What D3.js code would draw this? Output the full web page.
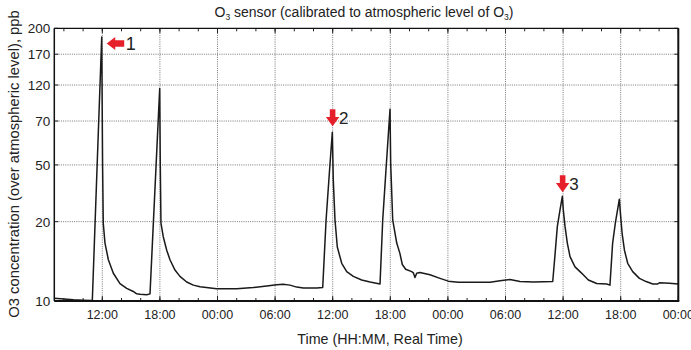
<!DOCTYPE html>
<html>
<head>
<meta charset="utf-8">
<script src="https://cdn.jsdelivr.net/npm/d3@7"></script>
<style>
  body { margin: 0; background: #fff; }
  text { font-family: "Liberation Sans", Arial, sans-serif; fill: #222; }
</style>
</head>
<body>
<div id="chart"></div>
<script>
// time in hours from midnight of day 1, concentration in ppb
const hours = [7.0, 8.0, 9.0, 10.0, 10.96,
  11.94, 12.03, 12.10, 12.28, 12.63, 13.15, 13.84, 14.54, 15.23, 15.58, 15.93, 16.63, 16.97,
  17.98, 18.04, 18.11, 18.35, 18.71, 19.05, 19.57, 20.09, 20.79, 21.48, 22.18, 23.92, 26.0, 27.73,
  29.13, 30.17, 30.85, 31.55, 32.25, 32.94, 34.33, 34.96,
  35.31, 35.65, 35.96, 36.06, 36.24, 36.48, 36.94, 37.46, 38.15, 39.02, 39.89, 40.93,
  41.21, 41.55, 41.97, 42.04, 42.25, 42.67, 43.0, 43.25, 43.6, 44.23, 44.4, 44.57, 44.75, 45.09,
  46.13, 47.18, 48.04, 49.08, 51.0, 52.39, 53.43, 54.47, 55.51, 56.9, 58.92,
  59.17, 59.4, 59.68, 59.92, 60.02, 60.2, 60.44, 60.72, 61.24, 61.76, 62.1, 62.63, 63.5, 64.54, 64.88,
  65.16, 65.44, 65.86, 65.97, 66.15, 66.39, 66.73, 67.25, 67.95, 68.65, 69.34, 69.86, 70.04, 71.08, 72.0];
const ppb = [10.35, 10.25, 10.15, 10.1, 10.05,
  190, 50, 19.8, 17.3, 15.2, 13.5, 12.2, 11.6, 11.2, 10.9, 10.85, 10.8, 10.9,
  115, 50, 19.8, 18.1, 16.4, 15.2, 13.9, 13.1, 12.4, 12.0, 11.8, 11.55, 11.55, 11.7,
  11.9, 12.05, 12.1, 12.0, 11.75, 11.65, 11.65, 11.7,
  20.9, 45.6, 64.9, 42.1, 20.9, 16.8, 14.75, 13.7, 13.1, 12.65, 12.4, 12.15,
  20.9, 47.4, 86.2, 50.8, 20.9, 17.3, 16.0, 14.6, 14.0, 13.7, 13.55, 12.95, 13.5, 13.6,
  13.3, 12.85, 12.5, 12.35, 12.35, 12.35, 12.55, 12.7, 12.45, 12.4, 12.45,
  16.0, 19.4, 26.2, 33.4, 26.2, 19.4, 17.3, 15.6, 14.3, 13.7, 13.3, 12.65, 12.2, 12.15, 12.0,
  17.3, 19.8, 31.9, 24.4, 18.5, 16.4, 14.75, 13.7, 12.85, 12.45, 12.15, 12.15, 12.3, 12.25, 12.15];

const yTickValues = [10, 20, 50, 70, 120, 170, 200];
const xMajorHours = [12, 18, 24, 30, 36, 42, 48, 54, 60, 66, 72];
const xMinorHours = d3.range(8, 72, 2);
const markerLabels = ['1', '2', '3'];
const markerHours = [11.94, 35.96, 59.92];
const markerValues = [190, 64.9, 33.4];
const markerDirs = ['left', 'down', 'down'];

const W = 691, H = 350;
const pLeft = 54.3, pRight = 678.3, pTop = 28.3, pBottom = 301;
const ph = pBottom - pTop;

const svg = d3.select('#chart').append('svg')
  .attr('width', W).attr('height', H);

const x = d3.scaleLinear().domain([7, 72]).range([pLeft, pRight]);
// calibrated (non-uniform) concentration axis
const yFrac = [0, 0.291, 0.499, 0.66, 0.792, 0.905, 1];
const y = d3.scaleLinear().domain(yTickValues).range(yFrac.map(f => pBottom - f * ph));

// grid
const grid = svg.append('g').attr('stroke', '#555').attr('stroke-width', 0.8).attr('stroke-dasharray', '1,1.2');
grid.selectAll('.gx').data(xMajorHours.filter(h => h < 72)).join('line')
  .attr('x1', d => x(d)).attr('x2', d => x(d)).attr('y1', pTop).attr('y2', pBottom);
grid.selectAll('.gy').data(yTickValues.filter(v => v > 10 && v < 200)).join('line')
  .attr('x1', pLeft).attr('x2', pRight).attr('y1', d => y(d)).attr('y2', d => y(d));

// ticks (inward, both sides)
const ticks = svg.append('g').attr('stroke', '#222').attr('stroke-width', 1);
[[xMajorHours, 5], [xMinorHours, 3]].forEach(([arr, len]) => {
  arr.forEach(h => {
    ticks.append('line').attr('x1', x(h)).attr('x2', x(h)).attr('y1', pBottom).attr('y2', pBottom - len);
    ticks.append('line').attr('x1', x(h)).attr('x2', x(h)).attr('y1', pTop).attr('y2', pTop + len);
  });
});
yTickValues.forEach(v => {
  ticks.append('line').attr('x1', pLeft).attr('x2', pLeft + 4).attr('y1', y(v)).attr('y2', y(v));
  ticks.append('line').attr('x1', pRight).attr('x2', pRight - 4).attr('y1', y(v)).attr('y2', y(v));
});

// series
const line = d3.line().x(d => x(d[0])).y(d => y(d[1]));
svg.append('path')
  .datum(hours.map((h, i) => [h, ppb[i]]))
  .attr('d', line)
  .attr('fill', 'none')
  .attr('stroke', '#1a1a1a')
  .attr('stroke-width', 1.5)
  .attr('stroke-linejoin', 'round');

// frame
svg.append('line').attr('x1', pLeft).attr('x2', pRight).attr('y1', pTop).attr('y2', pTop).attr('stroke', '#111').attr('stroke-width', 1.2);
svg.append('line').attr('x1', pLeft).attr('x2', pRight + 1).attr('y1', pBottom).attr('y2', pBottom).attr('stroke', '#111').attr('stroke-width', 2);
svg.append('line').attr('x1', pLeft).attr('x2', pLeft).attr('y1', pTop).attr('y2', pBottom).attr('stroke', '#111').attr('stroke-width', 1.5);
svg.append('line').attr('x1', pRight).attr('x2', pRight).attr('y1', pTop).attr('y2', pBottom).attr('stroke', '#111').attr('stroke-width', 2);

// tick labels
svg.selectAll('.ylab').data(yTickValues).join('text')
  .attr('x', pLeft - 4).attr('y', d => y(d)).attr('dy', '0.36em')
  .attr('text-anchor', 'end').style('font-size', '13.5px').text(d => d);
const fmt = h => String(h % 24).padStart(2, '0') + ':00';
svg.selectAll('.xlab').data(xMajorHours).join('text')
  .attr('x', d => x(d)).attr('y', 318.5)
  .attr('text-anchor', 'middle').style('font-size', '12.5px').text(fmt);

// axis titles
const title = svg.append('text').attr('x', 364).attr('y', 17).attr('text-anchor', 'middle').style('font-size', '14px');
title.append('tspan').text('O');
title.append('tspan').attr('dy', 3).style('font-size', '8.5px').text('3');
title.append('tspan').attr('dy', -3).text(' sensor (calibrated to atmospheric level of O');
title.append('tspan').attr('dy', 3).style('font-size', '8.5px').text('3');
title.append('tspan').attr('dy', -3).text(')');

svg.append('text').attr('x', 380).attr('y', 344).attr('text-anchor', 'middle')
  .style('font-size', '14.3px').text('Time (HH:MM, Real Time)');
svg.append('text').attr('transform', `translate(19, 164) rotate(-90)`).attr('text-anchor', 'middle')
  .style('font-size', '14.8px').text('O3 concentration (over atmospheric level), ppb');

// peak markers
const red = '#e5202a';
markerLabels.forEach((lab, i) => {
  const px = x(markerHours[i]), py = y(markerValues[i]);
  const g = svg.append('g');
  if (markerDirs[i] === 'left') {
    g.attr('transform', `translate(${px + 5},${py + 6.6})`);
    g.append('path').attr('d', 'M0,0 L8.5,-6.5 L8.5,-3.2 L17.5,-3.2 L17.5,3.2 L8.5,3.2 L8.5,6.5 Z').attr('fill', red);
    g.append('text').attr('x', 19).attr('y', 6.6).style('font-size', '18px').text(lab);
  } else {
    g.attr('transform', `translate(${px + 0.3},${py - (i === 1 ? 6 : 4)})`);
    g.append('path').attr('d', 'M0,0 L-6.7,-9.3 L-2.8,-9.3 L-2.8,-17 L2.8,-17 L2.8,-9.3 L6.7,-9.3 Z').attr('fill', red);
    g.append('text').attr('x', 6.5).attr('y', -2).style('font-size', '17px').text(lab);
  }
});
</script>
</body>
</html>
